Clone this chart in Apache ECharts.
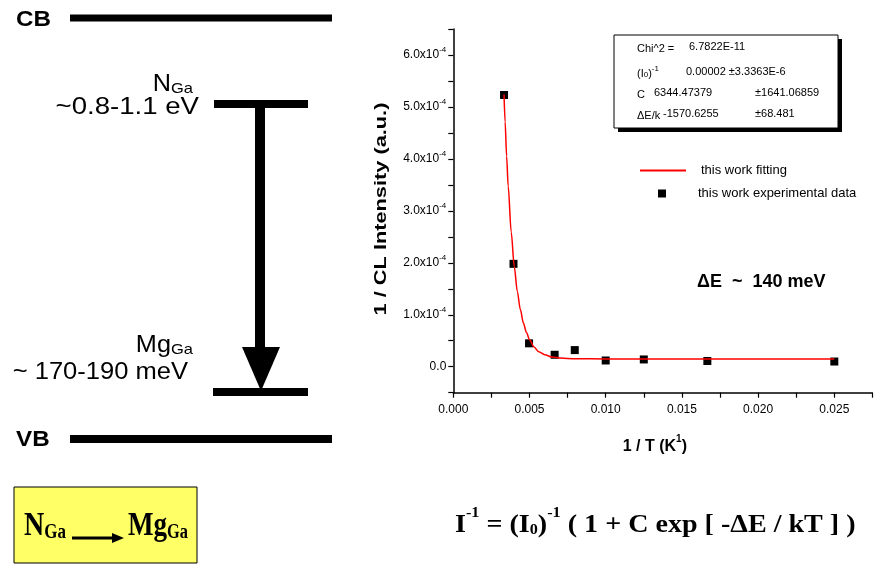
<!DOCTYPE html>
<html><head><meta charset="utf-8">
<script src="https://cdn.jsdelivr.net/npm/echarts@6/dist/echarts.min.js"></script>
<style>html,body{margin:0;padding:0;background:#fff}#c{width:874px;height:567px}</style>
</head><body><div id="c"></div>
<script>
// ---- data ----
const expX = [0.00333, 0.00395, 0.00497, 0.00665, 0.00797, 0.0100, 0.0125, 0.01667, 0.0250];
const expY = [5.23e-4, 1.98e-4, 0.45e-4, 0.23e-4, 0.32e-4, 0.12e-4, 0.14e-4, 0.11e-4, 0.10e-4];
const fitX = [0.00333, 0.0034, 0.0035, 0.0036, 0.0038, 0.0040, 0.0042, 0.0044, 0.0046, 0.0048, 0.0050, 0.0053, 0.0056, 0.0060, 0.0065, 0.0070, 0.0080, 0.0100, 0.0150, 0.0200, 0.0250];
const fitY = [5.24e-4, 4.71e-4, 4.05e-4, 3.48e-4, 2.59e-4, 1.93e-4, 1.45e-4, 1.10e-4, 0.84e-4, 0.66e-4, 0.52e-4, 0.38e-4, 0.29e-4, 0.23e-4, 0.185e-4, 0.166e-4, 0.153e-4, 0.150e-4, 0.150e-4, 0.150e-4, 0.150e-4];
const xTickLabels = ['0.000', '0.005', '0.010', '0.015', '0.020', '0.025'];
const yTickLabels = ['0.0', '1.0', '2.0', '3.0', '4.0', '5.0', '6.0'];
const seriesNames = ['this work fitting', 'this work experimental data'];
const statRows = [
  ['Chi^2 =', '6.7822E-11', ''],
  ['{t|(I}{u|0}{t|)}{s|-1}', '0.00002 \u00b13.3363E-6', ''],
  ['C', '6344.47379', '\u00b11641.06859'],
  ['\u0394E/k', '-1570.6255', '\u00b168.481']
];

const SANS = '"Liberation Sans", Arial, sans-serif';
const SERIF = '"Liberation Serif", "Times New Roman", serif';

const chart = echarts.init(document.getElementById('c'), null, {renderer: 'canvas'});

function txt(x, y, text, o) {
  o = o || {};
  return {
    type: 'text', x: x, y: y, scaleX: o.sx || 1, scaleY: o.sy || 1, rotation: o.rot || 0, z: 10,
    style: {
      x: 0, y: 0, text: text,
      fontFamily: o.family || SANS, fontSize: o.size || 12, fontWeight: o.weight || 'normal',
      fill: '#000', align: o.align || 'left', verticalAlign: o.va || 'middle',
      rich: o.rich
    }
  };
}
function rect(x, y, w, h, fill, stroke) {
  return {type: 'rect', z: 5, shape: {x: x, y: y, width: w, height: h},
    style: {fill: fill || '#000', stroke: stroke || null, lineWidth: stroke ? 1 : 0}};
}

const graphics = [];
// energy diagram
graphics.push(rect(70, 14.5, 262, 7));
graphics.push(rect(214, 100, 94, 8));
graphics.push(rect(255, 104, 10, 246));
graphics.push({type: 'polygon', z: 5, shape: {points: [[242, 347], [280, 347], [261, 391]]}, style: {fill: '#000'}});
graphics.push(rect(213, 388, 95, 8));
graphics.push(rect(70, 435, 262, 8));
graphics.push(txt(16, 20, 'CB', {size: 22, weight: 'bold', sx: 1.1}));
graphics.push(txt(16, 440, 'VB', {size: 22, weight: 'bold', sx: 1.1}));
const lvlRich = {a: {fontSize: 23, fontFamily: SANS, lineHeight: 25, verticalAlign: 'bottom'},
                 b: {fontSize: 15, fontFamily: SANS, lineHeight: 15, verticalAlign: 'bottom'}};
graphics.push(txt(193, 84, '{a|N}{b|Ga}', {align: 'right', sx: 1.1, rich: lvlRich}));
graphics.push(txt(199, 108, '~0.8-1.1 eV', {size: 23, align: 'right', sx: 1.2}));
graphics.push(txt(193, 345, '{a|Mg}{b|Ga}', {align: 'right', sx: 1.1, rich: lvlRich}));
graphics.push(txt(188, 373, '~ 170-190 meV', {size: 23, align: 'right', sx: 1.11}));

// yellow box
graphics.push(rect(14, 487, 183, 76, '#ffff66', '#000'));
const boxRich = {a: {fontSize: 33, fontFamily: SERIF, fontWeight: 'bold', lineHeight: 35, verticalAlign: 'bottom'},
                 b: {fontSize: 20, fontFamily: SERIF, fontWeight: 'bold', lineHeight: 22, verticalAlign: 'bottom'}};
graphics.push(txt(24, 525, '{a|N}{b|Ga}', {sx: 0.85, rich: boxRich}));
graphics.push(txt(128, 525, '{a|Mg}{b|Ga}', {sx: 0.82, rich: boxRich}));
graphics.push({type: 'line', z: 6, shape: {x1: 72, y1: 538, x2: 114, y2: 538}, style: {stroke: '#000', lineWidth: 3}});
graphics.push({type: 'polygon', z: 6, shape: {points: [[112, 533], [124, 538], [112, 543]]}, style: {fill: '#000'}});

// formula
graphics.push(txt(455, 522, '{a|I}{s|-1}{a| = (I}{u|0}{a|)}{s|-1}{a| ( 1 + C exp [ -\u0394E / kT ] )}', {sx: 1.08,
  rich: {a: {fontSize: 26, fontFamily: SERIF, fontWeight: 'bold', lineHeight: 32, verticalAlign: 'bottom'},
         s: {fontSize: 15, fontFamily: SERIF, fontWeight: 'bold', lineHeight: 15, verticalAlign: 'top'},
         u: {fontSize: 15, fontFamily: SERIF, fontWeight: 'bold', lineHeight: 15, verticalAlign: 'bottom'}}}));

// delta E annotation
graphics.push(txt(697, 282, '\u0394E  ~  140 meV', {size: 18, weight: 'bold'}));

// y axis title
graphics.push(txt(381, 209, '1 / CL Intensity (a.u.)', {size: 17, weight: 'bold', align: 'center', rot: Math.PI / 2, sx: 1.28}));

// stats box
graphics.push(rect(618, 39, 224, 93, '#000'));
graphics.push(rect(614, 35, 224, 93, '#fff', '#000'));
const rowY = [47, 72, 93, 114];
const col2 = [689, 686, 654, 663];
const statRich = {t: {fontSize: 11, fontFamily: SANS, lineHeight: 14, verticalAlign: 'bottom'},
                  u: {fontSize: 8, fontFamily: SANS, lineHeight: 9, verticalAlign: 'bottom'},
                  s: {fontSize: 8, fontFamily: SANS, lineHeight: 9, verticalAlign: 'top'}};
statRows.forEach(function (r, i) {
  graphics.push(txt(637, rowY[i], r[0].indexOf('{') >= 0 ? r[0] : '{t|' + r[0] + '}', {rich: statRich}));
  graphics.push(txt(col2[i], rowY[i], r[1], {size: 11}));
  if (r[2]) graphics.push(txt(755, rowY[i], r[2], {size: 11}));
});

const option = {
  animation: false,
  backgroundColor: '#fff',
  grid: {left: 453.3, right: 1.6, top: 29, bottom: 174.3, containLabel: false, outerBoundsMode: 'none'},
  legend: [
    {data: [seriesNames[0]], left: 639, top: 164, padding: 0, itemWidth: 46, itemHeight: 14, orient: 'vertical',
     itemStyle: {opacity: 0},
     textStyle: {fontSize: 13, fontFamily: SANS, color: '#000', padding: [0, 0, 0, 10]}},
    {data: [{name: seriesNames[1], icon: 'rect'}], left: 658, top: 187, padding: 0, itemWidth: 8, itemHeight: 8, orient: 'vertical',
     textStyle: {fontSize: 13, fontFamily: SANS, color: '#000', padding: [0, 0, 0, 27]}}
  ],
  xAxis: {
    type: 'value', min: 0, max: 0.0275, interval: 0.0025,
    name: '{a|1 / T (K}{s|1}{a|)}', nameLocation: 'middle', nameGap: 42,
    nameTextStyle: {padding: [0, 16, 0, 0], rich: {
      a: {fontSize: 16, fontWeight: 'bold', fontFamily: SANS, color: '#000', lineHeight: 20, verticalAlign: 'bottom'},
      s: {fontSize: 10, fontWeight: 'bold', fontFamily: SANS, color: '#000', lineHeight: 10, verticalAlign: 'top'}}},
    axisLine: {onZero: false, lineStyle: {color: '#000', width: 1.5}},
    axisTick: {show: true, length: 5, lineStyle: {color: '#000', width: 1.2}},
    splitLine: {show: false},
    axisLabel: {margin: 11, fontSize: 12, fontFamily: SANS, color: '#000', showMaxLabel: true,
      formatter: function (v) {
        const k = Math.round(v / 0.0025);
        return (k % 2 === 0 && k / 2 < xTickLabels.length) ? xTickLabels[k / 2] : '';
      }}
  },
  yAxis: {
    type: 'value', min: -0.5e-4, max: 6.5e-4, interval: 0.5e-4,
    axisLine: {onZero: false, lineStyle: {color: '#000', width: 1.5}},
    axisTick: {show: true, length: 5, lineStyle: {color: '#000', width: 1.2}},
    splitLine: {show: false},
    axisLabel: {margin: 7, fontFamily: SANS, color: '#000',
      rich: {m: {fontSize: 12, fontFamily: SANS, color: '#000', lineHeight: 18},
             s: {fontSize: 8, fontFamily: SANS, color: '#000', lineHeight: 8, verticalAlign: 'top'}},
      formatter: function (v) {
        const k = Math.round(v / 0.5e-4);
        if (k < 0 || k % 2 !== 0 || k / 2 >= yTickLabels.length) return '';
        const lab = yTickLabels[k / 2];
        return k === 0 ? '{m|' + lab + '}' : '{m|' + lab + 'x10}{s|-4}';
      }}
  },
  series: [
    {name: seriesNames[1], type: 'scatter', symbol: 'rect', symbolSize: 8, z: 2,
     itemStyle: {color: '#000', opacity: 1}, data: expX.map(function (x, i) { return [x, expY[i]]; })},
    {name: seriesNames[0], type: 'line', symbol: 'none', smooth: 0.3, smoothMonotone: 'x', z: 3,
     lineStyle: {color: '#ff0000', width: 1.5}, itemStyle: {color: '#ff0000'},
     data: fitX.map(function (x, i) { return [x, fitY[i]]; })}
  ],
  graphic: graphics
};
chart.setOption(option);
</script>
</body></html>
